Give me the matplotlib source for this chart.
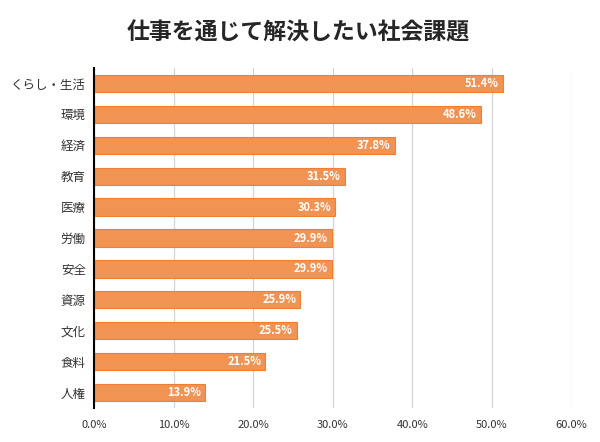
import numpy as np
import matplotlib.pyplot as plt

plt.rcParams['font.family'] = ['Noto Sans CJK JP', 'DejaVu Sans']

categories = ['くらし・生活', '環境', '経済', '教育', '医療', '労働',
              '安全', '資源', '文化', '食料', '人権']
values = [51.4, 48.6, 37.8, 31.5, 30.3, 29.9, 29.9, 25.9, 25.5, 21.5, 13.9]
xticks = [0, 10, 20, 30, 40, 50, 60]

fig = plt.figure(figsize=(6.0, 4.42), dpi=100)
ax = fig.add_axes([0.157, 0.077, 0.795, 0.769])

y = np.arange(len(categories))
ax.barh(y, values, height=0.56, color='#F19352', edgecolor='#EE7F33',
        linewidth=0.8, zorder=2)

for yi, v in zip(y, values):
    ax.text(v - 0.5, yi, f'{v:.1f}%', ha='right', va='center',
            color='white', fontsize=8, fontweight='bold', zorder=3)

ax.set_xlim(0, 60)
ax.set_ylim(len(categories) - 0.5, -0.5)
ax.set_yticks(y)
ax.set_yticklabels(categories, fontsize=9, color='#333333')
ax.set_xticks(xticks)
ax.set_xticklabels([f'{t:.1f}%' for t in xticks], fontsize=8, color='#333333')
ax.tick_params(axis='both', length=0, pad=6)
ax.tick_params(axis='x', pad=9)

ax.grid(axis='x', color='#D4D4D4', linewidth=0.9, zorder=1)
ax.set_axisbelow(True)
for s in ['top', 'right', 'bottom']:
    ax.spines[s].set_visible(False)
ax.spines['left'].set_color('black')
ax.spines['left'].set_linewidth(1.5)
ax.spines['left'].set_zorder(4)

fig.text(0.497, 0.925, '仕事を通じて解決したい社会課題', ha='center', va='center',
         fontsize=16.5, fontweight='bold', color='#262626')

fig.savefig('out.png', dpi=100)
